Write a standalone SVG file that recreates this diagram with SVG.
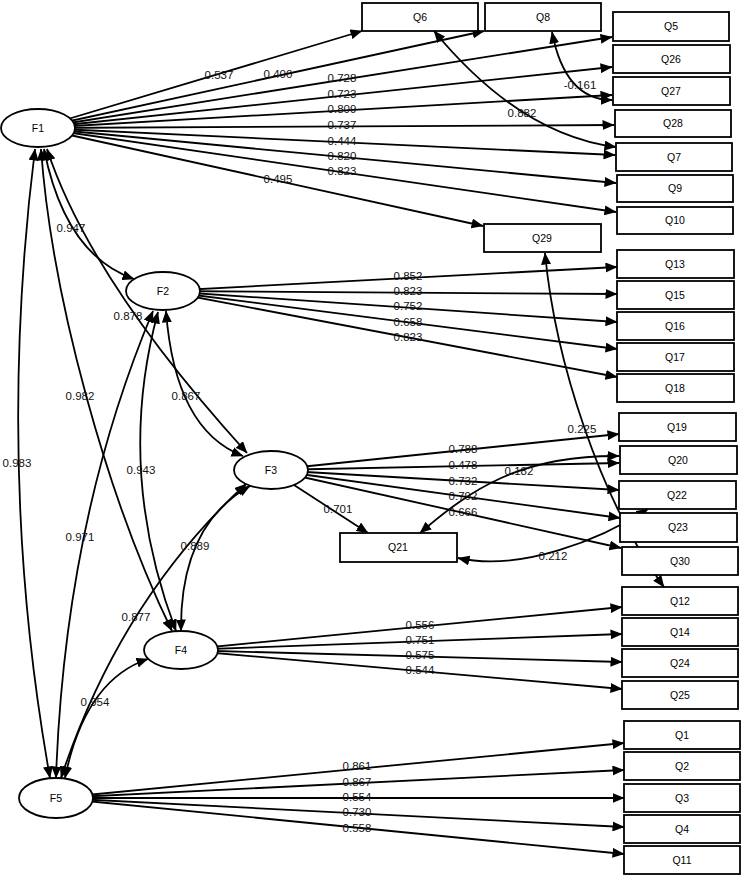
<svg xmlns="http://www.w3.org/2000/svg" width="744" height="878" viewBox="0 0 744 878">
<style>
.c{fill:none;stroke:#000;stroke-width:1.8}
.a{marker-end:url(#ah)}
.b{marker-start:url(#ah);marker-end:url(#ah)}
.n rect,.n ellipse{fill:#fff;stroke:#000;stroke-width:1.8}
.t{font-family:"Liberation Sans",Arial,sans-serif;font-size:10.5px;text-anchor:middle;fill:#000}
.l{font-family:"Liberation Sans",Arial,sans-serif;font-size:11.5px;text-anchor:middle;fill:#111}
</style>
<defs>
<marker id="ah" viewBox="0 0 12 10" refX="11.5" refY="5" markerWidth="12" markerHeight="10" markerUnits="userSpaceOnUse" orient="auto-start-reverse"><path d="M0,0L12,5L0,10z" fill="#000"/></marker>
</defs>
<rect width="744" height="878" fill="#fff"/>
<g id="connectors">
<path class="c a" d="M38,128L362,31"/>
<path class="c a" d="M38,128L484,31"/>
<path class="c a" d="M38,128L612,37"/>
<path class="c a" d="M38,128L612,67"/>
<path class="c a" d="M38,128L612,95"/>
<path class="c a" d="M38,128L614,125"/>
<path class="c a" d="M38,128L615,155"/>
<path class="c a" d="M38,128L616,183"/>
<path class="c a" d="M38,128L616,212"/>
<path class="c a" d="M38,128L483,226"/>
<path class="c a" d="M163,291L617,267"/>
<path class="c a" d="M163,291L617,294"/>
<path class="c a" d="M163,291L617,322"/>
<path class="c a" d="M163,291L617,349"/>
<path class="c a" d="M163,291L617,377"/>
<path class="c a" d="M271,470L619,434"/>
<path class="c a" d="M271,470L619,463"/>
<path class="c a" d="M271,470L619,490"/>
<path class="c a" d="M271,470L620,518"/>
<path class="c a" d="M271,470L621,548"/>
<path class="c a" d="M294,485L368,533"/>
<path class="c a" d="M181,650L622,607"/>
<path class="c a" d="M181,650L622,634"/>
<path class="c a" d="M181,650L622,662"/>
<path class="c a" d="M181,650L622,689"/>
<path class="c a" d="M56,798L624,743"/>
<path class="c a" d="M56,798L624,770"/>
<path class="c a" d="M56,798L624,798"/>
<path class="c a" d="M56,798L624,827"/>
<path class="c a" d="M56,798L624,854"/>
<path class="c b" d="M44,149Q65,255 134,279"/>
<path class="c b" d="M47,149Q90,280 247,453"/>
<path class="c b" d="M41,149C52,300 108,500 172,631"/>
<path class="c b" d="M35,149Q-5,470 50,778"/>
<path class="c b" d="M166,311Q175,430 243,456"/>
<path class="c b" d="M158,312Q115,470 176,631"/>
<path class="c b" d="M153,311Q65,520 56,778"/>
<path class="c b" d="M250,486Q180,525 181,631"/>
<path class="c b" d="M246,484Q120,600 61,778"/>
<path class="c b" d="M65,778Q85,680 148,659"/>
<path class="c b" d="M434,31Q520,135 616,147"/>
<path class="c b" d="M552,32Q565,100 612,100"/>
<path class="c b" d="M545,253C555,360 600,500 664,587"/>
<path class="c b" d="M420,533C470,490 520,455 619,456"/>
<path class="c b" d="M458,558C520,572 600,540 648,509"/>
</g>
<g id="F1" class="n"><ellipse cx="38" cy="128" rx="37" ry="19"/><text class="t" x="38" y="132">F1</text></g>
<g id="F2" class="n"><ellipse cx="163" cy="291" rx="37" ry="19"/><text class="t" x="163" y="295">F2</text></g>
<g id="F3" class="n"><ellipse cx="271" cy="470" rx="37" ry="19"/><text class="t" x="271" y="474">F3</text></g>
<g id="F4" class="n"><ellipse cx="181" cy="650" rx="37" ry="19"/><text class="t" x="181" y="654">F4</text></g>
<g id="F5" class="n"><ellipse cx="56" cy="798" rx="37" ry="20"/><text class="t" x="56" y="802">F5</text></g>
<g id="Q6" class="n"><rect x="362" y="3" width="116" height="28"/><text class="t" x="420" y="21">Q6</text></g>
<g id="Q8" class="n"><rect x="485" y="3" width="116" height="28"/><text class="t" x="543" y="21">Q8</text></g>
<g id="Q5" class="n"><rect x="613" y="12" width="116" height="29"/><text class="t" x="671" y="30">Q5</text></g>
<g id="Q26" class="n"><rect x="613" y="45" width="117" height="28"/><text class="t" x="671" y="63">Q26</text></g>
<g id="Q27" class="n"><rect x="613" y="77" width="117" height="28"/><text class="t" x="671" y="95">Q27</text></g>
<g id="Q28" class="n"><rect x="615" y="110" width="116" height="27"/><text class="t" x="673" y="127">Q28</text></g>
<g id="Q7" class="n"><rect x="616" y="143" width="116" height="28"/><text class="t" x="674" y="161">Q7</text></g>
<g id="Q9" class="n"><rect x="617" y="175" width="116" height="27"/><text class="t" x="675" y="192">Q9</text></g>
<g id="Q10" class="n"><rect x="617" y="207" width="116" height="27"/><text class="t" x="675" y="224">Q10</text></g>
<g id="Q29" class="n"><rect x="484" y="224" width="117" height="28"/><text class="t" x="542" y="242">Q29</text></g>
<g id="Q13" class="n"><rect x="617" y="250" width="117" height="28"/><text class="t" x="675" y="268">Q13</text></g>
<g id="Q15" class="n"><rect x="617" y="281" width="117" height="28"/><text class="t" x="675" y="299">Q15</text></g>
<g id="Q16" class="n"><rect x="617" y="312" width="117" height="28"/><text class="t" x="675" y="330">Q16</text></g>
<g id="Q17" class="n"><rect x="617" y="343" width="117" height="28"/><text class="t" x="675" y="361">Q17</text></g>
<g id="Q18" class="n"><rect x="617" y="374" width="117" height="28"/><text class="t" x="675" y="392">Q18</text></g>
<g id="Q19" class="n"><rect x="619" y="413" width="117" height="28"/><text class="t" x="677" y="431">Q19</text></g>
<g id="Q20" class="n"><rect x="620" y="446" width="117" height="28"/><text class="t" x="678" y="464">Q20</text></g>
<g id="Q22" class="n"><rect x="619" y="481" width="117" height="28"/><text class="t" x="677" y="499">Q22</text></g>
<g id="Q23" class="n"><rect x="620" y="513" width="117" height="29"/><text class="t" x="678" y="531">Q23</text></g>
<g id="Q30" class="n"><rect x="622" y="547" width="116" height="28"/><text class="t" x="680" y="565">Q30</text></g>
<g id="Q12" class="n"><rect x="622" y="587" width="116" height="28"/><text class="t" x="680" y="605">Q12</text></g>
<g id="Q14" class="n"><rect x="622" y="618" width="116" height="28"/><text class="t" x="680" y="636">Q14</text></g>
<g id="Q24" class="n"><rect x="622" y="649" width="116" height="28"/><text class="t" x="680" y="667">Q24</text></g>
<g id="Q25" class="n"><rect x="622" y="681" width="116" height="28"/><text class="t" x="680" y="699">Q25</text></g>
<g id="Q1" class="n"><rect x="624" y="721" width="116" height="28"/><text class="t" x="682" y="739">Q1</text></g>
<g id="Q2" class="n"><rect x="624" y="752" width="116" height="28"/><text class="t" x="682" y="770">Q2</text></g>
<g id="Q3" class="n"><rect x="624" y="784" width="116" height="28"/><text class="t" x="682" y="802">Q3</text></g>
<g id="Q4" class="n"><rect x="624" y="815" width="116" height="28"/><text class="t" x="682" y="833">Q4</text></g>
<g id="Q11" class="n"><rect x="624" y="846" width="116" height="28"/><text class="t" x="682" y="864">Q11</text></g>
<g id="Q21" class="n"><rect x="340" y="533" width="117" height="29"/><text class="t" x="398" y="551">Q21</text></g>
<g id="labels">
<text class="l" x="219" y="79">0.537</text>
<text class="l" x="278" y="78">0.400</text>
<text class="l" x="342" y="82">0.728</text>
<text class="l" x="342" y="98">0.723</text>
<text class="l" x="342" y="113">0.809</text>
<text class="l" x="342" y="129">0.737</text>
<text class="l" x="342" y="145">0.444</text>
<text class="l" x="342" y="160">0.820</text>
<text class="l" x="342" y="175">0.823</text>
<text class="l" x="278" y="183">0.495</text>
<text class="l" x="408" y="280">0.852</text>
<text class="l" x="408" y="295">0.823</text>
<text class="l" x="408" y="310">0.752</text>
<text class="l" x="408" y="326">0.658</text>
<text class="l" x="408" y="341">0.823</text>
<text class="l" x="463" y="453">0.788</text>
<text class="l" x="463" y="469">0.478</text>
<text class="l" x="463" y="485">0.732</text>
<text class="l" x="463" y="500">0.792</text>
<text class="l" x="463" y="516">0.666</text>
<text class="l" x="338" y="513">0.701</text>
<text class="l" x="420" y="629">0.556</text>
<text class="l" x="420" y="644">0.751</text>
<text class="l" x="420" y="659">0.575</text>
<text class="l" x="420" y="674">0.544</text>
<text class="l" x="357" y="770">0.861</text>
<text class="l" x="357" y="786">0.867</text>
<text class="l" x="357" y="801">0.554</text>
<text class="l" x="357" y="816">0.730</text>
<text class="l" x="357" y="832">0.558</text>
<text class="l" x="71" y="232">0.947</text>
<text class="l" x="128" y="320">0.878</text>
<text class="l" x="80" y="400">0.982</text>
<text class="l" x="17" y="467">0.983</text>
<text class="l" x="186" y="400">0.867</text>
<text class="l" x="141" y="474">0.943</text>
<text class="l" x="80" y="541">0.971</text>
<text class="l" x="195" y="550">0.889</text>
<text class="l" x="136" y="621">0.877</text>
<text class="l" x="95" y="706">0.954</text>
<text class="l" x="522" y="117">0.882</text>
<text class="l" x="580" y="89">-0.161</text>
<text class="l" x="582" y="433">0.225</text>
<text class="l" x="519" y="475">0.182</text>
<text class="l" x="553" y="560">0.212</text>
</g>
</svg>
